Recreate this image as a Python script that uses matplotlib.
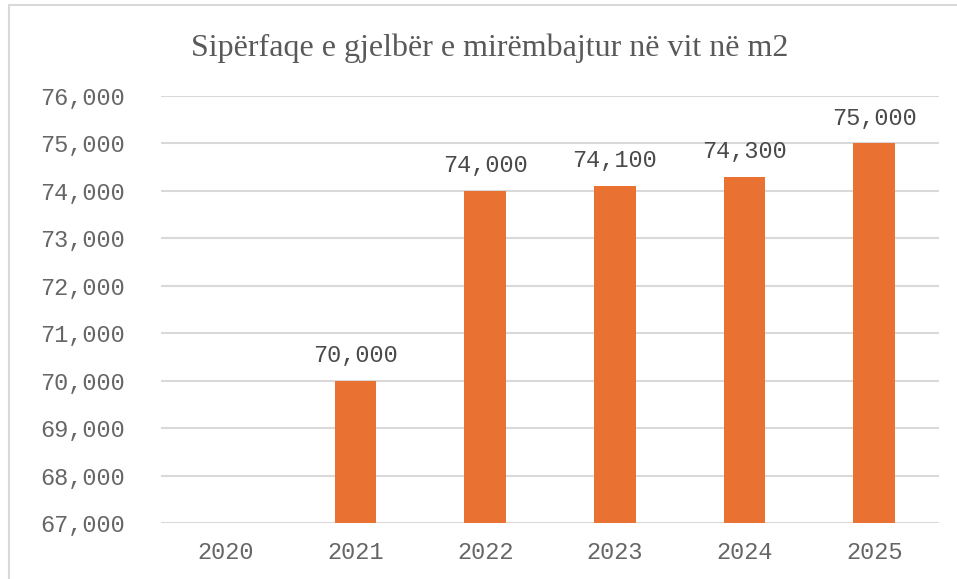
import numpy as np
import matplotlib
matplotlib.use("Agg")
import matplotlib.pyplot as plt
from matplotlib.patches import Rectangle

years = ["2020", "2021", "2022", "2023", "2024", "2025"]
values = [np.nan, 70000, 74000, 74100, 74300, 75000]
title = "Sipërfaqe e gjelbër e mirëmbajtur në vit në m2"
y_ticks = list(range(67000, 76001, 1000))

fig = plt.figure(figsize=(9.57, 5.79), dpi=100)
ax = fig.add_axes([161/957, 1-523/579, (939-161)/957, (523-96)/579])

x = np.arange(len(years))
ax.bar(x, values, width=0.32, color="#E97132", zorder=3)

ax.set_ylim(67000, 76000)
ax.set_xlim(-0.5, len(years)-0.5)
ax.set_yticks(y_ticks)
ax.set_yticklabels([f"{v:,}" for v in y_ticks])
ax.set_xticks(x)
ax.set_xticklabels(years)
ax.yaxis.grid(True, color="#D9D9D9", lw=1.5, zorder=0)
ax.set_axisbelow(True)
for s in ["top", "right", "left", "bottom"]:
    ax.spines[s].set_visible(False)
ax.tick_params(axis="both", length=0, labelsize=17, labelcolor="#666666")
ax.tick_params(axis="y", pad=26)
ax.tick_params(axis="x", pad=13)
for lab in ax.get_xticklabels() + ax.get_yticklabels():
    lab.set_family("Liberation Mono")

for xi, v in zip(x, values):
    if np.isnan(v):
        continue
    ax.annotate(f"{v:,}", (xi, v), xytext=(0, 10), textcoords="offset points",
                ha="center", va="bottom", fontsize=17, color="#4a4a4a",
                family="Liberation Mono")

fig.text(490/957, 1-48/579, title, ha="center", va="center",
         fontsize=23, color="#595959", family="Liberation Serif")

fig.patches.append(Rectangle((9/957, -0.1), 1.2, 1-5/579+0.1, transform=fig.transFigure,
                             fill=False, edgecolor="#D9D9D9", lw=1.5))

fig.savefig("out.png", dpi=100)
